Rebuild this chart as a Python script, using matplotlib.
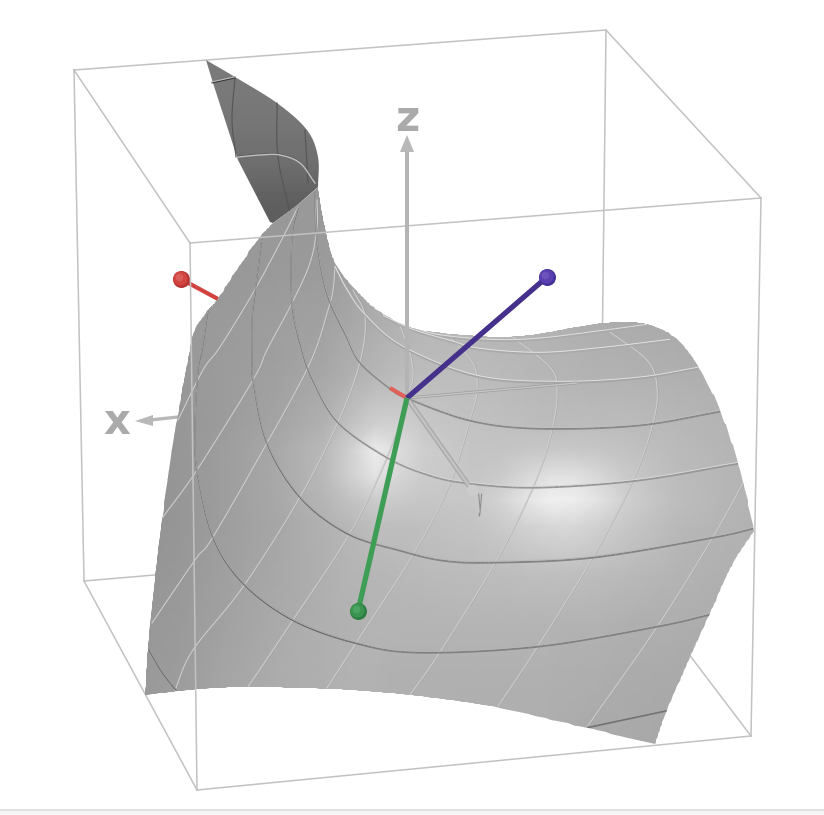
import numpy as np
import matplotlib
matplotlib.use('Agg')
import matplotlib.pyplot as plt
from matplotlib.collections import LineCollection
from matplotlib.patches import PathPatch, Polygon
from matplotlib.textpath import TextPath
from matplotlib.transforms import Affine2D

box_back = [(74, 70), (606, 30), (600, 537), (84, 581)]
box_front = [(190, 243), (761, 198), (751, 736), (197, 790)]

front_left = [(273, 223), (260, 237), (238, 268), (217, 300), (208, 310), (194, 332), (187, 365), (177, 420),
              (162, 520), (155, 577), (148, 647), (145, 695)]
front_bottom = [(145, 695), (200, 689), (250, 687), (300, 688), (350, 690), (400, 694), (450, 700), (500, 708),
                (583, 727), (655, 744)]
front_right = [(655, 744), (667, 710), (690, 657), (710, 613), (733, 563), (754, 531)]
front_top = [(753, 525), (738, 463), (720, 410), (703, 375), (687, 350), (670, 334), (650, 325), (630, 322),
             (603, 323), (570, 328), (537, 334), (503, 337), (480, 336), (443, 333), (410, 327), (377, 310),
             (353, 287), (335, 263), (327, 237), (322, 213), (318, 187)]
front_fold = [(318, 187), (315, 190), (295, 207), (273, 223)]
back_outline = [(206, 60), (235, 77), (277, 103), (307, 130), (318, 157), (318, 187), (295, 207), (273, 223),
                (270, 222), (238, 160), (213, 83)]

# gray levels read on a loose grid, finer around the two highlights
shade_x = [125, 175, 225, 275, 325, 350, 375, 400, 425, 475, 500, 525, 550, 575, 600, 625, 675, 725, 775]
shade_y = [175, 225, 275, 325, 375, 425, 450, 475, 500, 525, 575, 625, 675, 725, 775]
shade = [
    [152, 152, 152, 152, 154, 157, 162, 166, 170, 175, 175, 175, 175, 175, 175, 175, 175, 175, 175],
    [152, 152, 152, 152, 154, 157, 162, 166, 170, 175, 175, 175, 175, 175, 175, 175, 175, 175, 175],
    [152, 152, 152, 154, 156, 162, 170, 176, 178, 178, 176, 175, 175, 175, 175, 175, 175, 175, 175],
    [152, 152, 155, 158, 162, 168, 174, 178, 182, 182, 180, 180, 178, 176, 174, 172, 170, 168, 168],
    [150, 152, 156, 160, 168, 176, 182, 188, 188, 188, 186, 184, 182, 180, 178, 178, 176, 174, 172],
    [148, 150, 156, 164, 178, 194, 208, 208, 200, 194, 192, 190, 188, 188, 188, 188, 184, 180, 178],
    [148, 150, 158, 168, 186, 208, 236, 220, 206, 196, 196, 198, 200, 200, 198, 194, 187, 182, 178],
    [146, 150, 158, 168, 186, 208, 228, 214, 204, 198, 202, 214, 224, 224, 214, 202, 188, 182, 178],
    [146, 150, 158, 168, 182, 194, 204, 202, 198, 200, 212, 228, 240, 238, 226, 208, 190, 182, 178],
    [146, 150, 158, 166, 178, 184, 190, 190, 192, 196, 202, 210, 216, 216, 208, 200, 186, 180, 176],
    [148, 152, 160, 168, 176, 180, 182, 184, 186, 188, 188, 190, 190, 190, 188, 186, 180, 176, 174],
    [150, 154, 162, 170, 176, 178, 180, 180, 180, 180, 180, 180, 180, 178, 178, 176, 174, 172, 172],
    [152, 156, 165, 172, 176, 178, 178, 176, 176, 176, 176, 176, 176, 175, 174, 172, 170, 170, 170],
    [154, 158, 166, 172, 176, 178, 176, 176, 176, 174, 174, 174, 174, 172, 170, 170, 168, 168, 168],
    [154, 158, 166, 172, 176, 178, 176, 176, 176, 174, 174, 174, 174, 172, 170, 170, 168, 168, 168],
]
back_shade_y = [60, 130, 175, 225]
back_shade = [[122], [118], [110], [94]]

# rings of the mesh (run left to right)
ring_1 = [(403, 325), (437, 335), (490, 340), (537, 339), (603, 331), (647, 325)]
ring_2 = [(383, 316), (413, 330), (450, 341), (480, 349), (540, 353), (603, 348), (670, 340)]
ring_3 = [(335, 267), (347, 290), (365, 315), (403, 347), (477, 376), (557, 382), (637, 378), (698, 368)]
ring_4 = [(315, 190), (317, 240), (327, 293), (347, 337), (360, 362), (390, 388), (408, 398), (470, 420),
          (537, 428), (637, 425), (720, 411)]
ring_5 = [(298, 207), (292, 237), (292, 303), (302, 350), (313, 380), (338, 422), (387, 457),
          (430, 475), (470, 483), (537, 487), (637, 480), (738, 463)]
ring_6 = [(262, 237), (255, 293), (252, 320), (252, 360), (253, 380), (267, 443), (300, 497), (347, 533),
          (400, 550), (443, 560), (493, 562), (593, 557), (713, 537), (753, 528)]
ring_7 = [(208, 310), (202, 350), (198, 370), (195, 427), (197, 470), (213, 537), (243, 583), (293, 620),
          (357, 643), (420, 652), (538, 646), (657, 626), (710, 614)]
ring_8a = [(148, 648), (163, 673), (178, 692)]
ring_8b = [(587, 727), (667, 710)]
ring_back = [(238, 157), (260, 155), (280, 155), (300, 163), (315, 183)]
ring_tip = [(212, 82), (235, 77)]
back_lines = [[(235, 77), (232, 120), (236, 157)], [(277, 103), (278, 157), (290, 213)], [(305, 130), (308, 183)]]

# cross lines of the mesh (run top to bottom)
cross_0 = [(298, 207), (280, 243), (253, 293), (220, 347), (203, 370), (178, 420)]
cross_1 = [(317, 200), (317, 227), (310, 263), (292, 303), (267, 350), (253, 380), (197, 470), (163, 517)]
cross_2 = [(335, 267), (333, 290), (328, 310), (310, 363), (267, 443), (213, 537), (195, 560), (152, 623)]
cross_3 = [(353, 290), (365, 317), (360, 362), (338, 422), (300, 497), (243, 587), (193, 650), (175, 690)]
cross_4 = [(450, 337), (473, 363), (477, 390), (470, 420), (450, 483), (417, 548), (360, 637), (327, 688)]
cross_5 = [(400, 325), (410, 353), (413, 377), (407, 397), (387, 457), (350, 533), (293, 620), (248, 687)]
cross_6 = [(513, 337), (550, 367), (557, 390), (552, 430), (533, 487), (495, 563), (440, 652), (410, 695)]
cross_7 = [(610, 332), (647, 360), (657, 387), (653, 423), (633, 480), (593, 557), (538, 646), (497, 708)]
cross_8 = [(743, 483), (713, 537), (657, 627), (587, 727)]

origin = (407, 398)
z_tip = (407, 135)
x_stub = (390, 388)
x_end = (135, 421)
x_start = (178, 417)
red_ball = (181, 279)
red_hidden = (218, 299)
blue_ball = (547, 277)
green_ball = (358, 611)
y_end = (472, 490)
needle_end = (577, 383)


def smooth(pts, n=16):
    # catmull-rom through the points so the curves are not angular
    p = np.array(pts, dtype=float)
    if len(p) < 3:
        return p
    p = np.vstack([2 * p[0] - p[1], p, 2 * p[-1] - p[-2]])
    out = []
    for i in range(1, len(p) - 2):
        for t in np.linspace(0, 1, n, endpoint=False):
            out.append(0.5 * ((2 * p[i]) + (p[i + 1] - p[i - 1]) * t
                              + (2 * p[i - 1] - 5 * p[i] + 4 * p[i + 1] - p[i + 2]) * t ** 2
                              + (3 * p[i] - p[i - 1] - 3 * p[i + 1] + p[i + 2]) * t ** 3))
    out.append(p[-2])
    return np.array(out)


def xy(pts):
    a = np.array(pts, dtype=float)
    return a[:, 0], a[:, 1]


def ball(ax, c, face, edge, shine, zorder):
    ax.scatter(*c, s=150, color=edge, zorder=zorder, linewidths=0)
    ax.scatter(c[0] - 0.5, c[1] - 0.7, s=105, color=face, zorder=zorder, linewidths=0)
    ax.scatter(c[0] - 1.5, c[1] - 2, s=30, color=shine, alpha=0.6, zorder=zorder, linewidths=0)


def draw_ring(ax, line, left_gray, right_gray, light, clip):
    # thin and dark on the left of the surface, softer and wider on the right
    c = smooth(line)
    segs = np.stack([c[:-1], c[1:]], axis=1)
    f = np.clip((segs[:, 0, 0] - 290) / 90, 0, 1)
    g = (left_gray + (right_gray - left_gray) * f) / 255
    lc = LineCollection(segs + [0, 0.6], colors=np.column_stack([g, g, g]), linewidths=0.7 + 0.7 * f, zorder=8)
    ax.add_collection(lc)
    lc.set_clip_path(clip)
    g2 = (light * f + (left_gray + 70) * (1 - f)) / 255
    lc2 = LineCollection(segs - [0, 0.7], colors=np.column_stack([g2, g2, g2]), linewidths=0.7, zorder=8)
    ax.add_collection(lc2)
    lc2.set_clip_path(clip)


fig = plt.figure(figsize=(8.24, 8.15), dpi=100)
ax = fig.add_axes([0, 0, 1, 1])

# page edge at the very bottom
ax.axhspan(810, 815, color='#f6f6f6', lw=0, zorder=0)
ax.axhline(810, color='#dddddd', lw=1.2, zorder=0)

box_col = '#c2c2c2'
for a, b in zip(box_back, box_back[1:] + box_back[:1]):
    ax.plot(*xy([a, b]), color=box_col, lw=1.1, zorder=1)
for a, b in zip(box_back, box_front):
    ax.plot(*xy([a, b]), color=box_col, lw=1.1, zorder=1)

ax.plot(*xy([red_ball, red_hidden]), color='#d0433f', lw=3, zorder=2, solid_capstyle='butt')
ball(ax, red_ball, '#d24440', '#b53431', '#e0706a', 3)

# back of the surface
back_poly = Polygon(smooth(back_outline[:6], 6).tolist() + back_outline[6:], closed=True, transform=ax.transData)
im = ax.imshow(np.array(back_shade, dtype=float), extent=(200, 325, back_shade_y[-1], back_shade_y[0]), cmap='gray',
               vmin=0, vmax=255, aspect='auto', interpolation='bilinear', zorder=4)
im.set_clip_path(back_poly)
for line in back_lines:
    c = smooth(line)
    ax.plot(c[:, 0], c[:, 1], color='#555555', lw=0.8, zorder=5)
c = smooth(ring_back)
ax.plot(c[:, 0], c[:, 1] - 0.8, color='#505050', lw=0.7, zorder=5)
ax.plot(c[:, 0], c[:, 1], color='#c0c0c0', lw=1.0, zorder=5)
ax.plot(*xy(ring_tip), color='#bbbbbb', lw=1, zorder=5)
ax.plot(*xy([(212, 83), (235, 78)]), color='#333333', lw=0.7, zorder=5)

# front of the surface
outline = np.vstack([smooth(front_left), smooth(front_bottom), smooth(front_right), smooth(front_top),
                     np.array(front_fold, dtype=float)])
front_poly = Polygon(outline, closed=True, transform=ax.transData)
mesh = ax.pcolormesh(shade_x, shade_y, np.array(shade, dtype=float), shading='gouraud', cmap='gray',
                     vmin=0, vmax=255, zorder=6)
mesh.set_clip_path(front_poly)

for line in [cross_0, cross_1, cross_2, cross_3, cross_4, cross_5, cross_6, cross_7, cross_8]:
    c = smooth(line)
    ax.plot(c[:, 0] + 0.7, c[:, 1], color='#969696', lw=0.6, alpha=0.6, zorder=7, clip_path=front_poly)
    ax.plot(c[:, 0], c[:, 1], color='#cdcdcd', lw=0.8, zorder=7, clip_path=front_poly)

draw_ring(ax, ring_1, 175, 170, 225, front_poly)
draw_ring(ax, ring_2, 175, 170, 228, front_poly)
draw_ring(ax, ring_3, 175, 165, 225, front_poly)
draw_ring(ax, ring_4, 92, 135, 190, front_poly)
draw_ring(ax, ring_5, 92, 150, 215, front_poly)
draw_ring(ax, ring_6, 92, 130, 185, front_poly)
draw_ring(ax, ring_7, 92, 128, 180, front_poly)
draw_ring(ax, ring_8a, 88, 88, 160, front_poly)
draw_ring(ax, ring_8b, 115, 115, 170, front_poly)

# front edges of the box show through the surface
for a, b in zip(box_front, box_front[1:] + box_front[:1]):
    ax.plot(*xy([a, b]), color=box_col, lw=1.1, zorder=9)

# axes
ax.plot(*xy([origin, (z_tip[0], 150)]), color='#b4b4b4', lw=2.9, zorder=10, solid_capstyle='butt')
ax.add_patch(Polygon([z_tip, (400, 152), (414, 152)], closed=True, color='#b8b8b8', lw=0, zorder=10))
ax.text(407, 119, 'z', fontsize=30, fontweight='bold', color='#aaaaaa', ha='center', va='center', zorder=10)
ax.plot(*xy([x_start, (150, 420)]), color='#b8b8b8', lw=2.4, zorder=5, solid_capstyle='butt')
ax.add_patch(Polygon([x_end, (153, 415), (153, 426)], closed=True, color='#b8b8b8', lw=0, zorder=5))
ax.text(117, 422, 'x', fontsize=30, fontweight='bold', color='#aaaaaa', ha='center', va='center', zorder=5)

ax.plot(*xy([origin, needle_end]), color='#9c9c9c', lw=2.0, zorder=10, solid_capstyle='butt')
ax.plot(*xy([origin, needle_end]), color='#c6c6c6', lw=1.0, zorder=10, solid_capstyle='butt')
ax.plot(*xy([origin, y_end]), color='#a8a8a8', lw=3.6, zorder=10, solid_capstyle='butt')
ax.plot(*xy([origin, y_end]), color='#c2c2c2', lw=1.8, zorder=10, solid_capstyle='butt')
ax.scatter(*y_end, s=70, color='#cccccc', zorder=10, linewidths=0)
# the y label is seen almost edge on
y_glyph = TextPath((0, 0), 'y', size=30, prop={'weight': 'bold'})
y_tf = Affine2D().scale(0.22, -1.0).translate(478, 510) + ax.transData
ax.add_patch(PathPatch(y_glyph, transform=y_tf, color='#8e8e8e', lw=0, zorder=10))

ax.plot(*xy([origin, x_stub]), color='#e0605a', lw=3, zorder=11, solid_capstyle='butt')
ax.plot(*xy([origin, blue_ball]), color='#45308c', lw=3.8, zorder=11, solid_capstyle='butt')
ball(ax, blue_ball, '#5a3fb0', '#46309a', '#7a62c4', 12)
ax.plot(*xy([origin, green_ball]), color='#3f9e55', lw=3.8, zorder=11, solid_capstyle='butt')
ball(ax, green_ball, '#3a9450', '#2c7d40', '#58ae6e', 12)

ax.set_xlim(0, 824)
ax.set_ylim(815, 0)
ax.set_aspect('auto')
ax.axis('off')

fig.savefig('out.png', dpi=100)
